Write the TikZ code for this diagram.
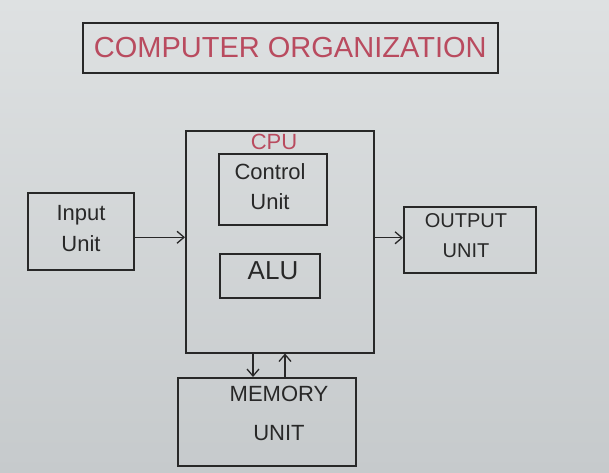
\documentclass[tikz,border=0pt]{standalone}
\usepackage{fontspec}
\setmainfont{Liberation Sans}
\usetikzlibrary{arrows.meta,calc}
\definecolor{board}{RGB}{222,225,226}
\definecolor{boardlow}{RGB}{198,202,204}
\definecolor{ink}{RGB}{40,40,40}
\definecolor{redink}{RGB}{185,75,95}
\tikzset{
  box/.style={draw=ink, line width=1.5pt, rectangle, inner sep=0pt, anchor=north west},
  lbl/.style={text=ink, inner sep=0pt, align=center},
  arr/.style={draw=ink, line width=1.4pt, -{Straight Barb[length=7pt,width=12pt,line width=1.3pt]}}
}
\begin{document}
\begin{tikzpicture}[x=1pt,y=-1pt]
\shade[top color=board, bottom color=boardlow] (0,0) rectangle (609,472);
\useasboundingbox (0,0) rectangle (609,472);
% title
\node[box, minimum width=415pt, minimum height=50pt] (title) at (82,22) {};
\node[lbl, text=redink, font=\fontsize{29}{29}\selectfont] (ttext) at (title.center) {COMPUTER ORGANIZATION};
% CPU
\node[box, minimum width=188pt, minimum height=222pt] (cpu) at (185,130) {};
\node[lbl, text=redink, font=\fontsize{22}{22}\selectfont] (cpul) at (274,142) {CPU};
\node[box, minimum width=108pt, minimum height=71pt] (cu) at (218,153) {};
\node[lbl, font=\fontsize{22}{30}\selectfont] (cul) at (270,187) {Control\\Unit};
\node[box, minimum width=100pt, minimum height=44pt] (alu) at (219,253) {};
\node[lbl, font=\fontsize{26}{26}\selectfont] (alul) at (273,271) {ALU};
% input
\node[box, minimum width=106pt, minimum height=77pt] (input) at (27,192) {};
\node[lbl, font=\fontsize{22}{31}\selectfont] (inl) at (81,229) {Input\\Unit};
% output
\node[box, minimum width=132pt, minimum height=66pt] (output) at (403,206) {};
\node[lbl, font=\fontsize{20}{30}\selectfont] (outl) at (466,236) {OUTPUT\\UNIT};
% memory
\node[box, minimum width=178pt, minimum height=88pt] (mem) at (177,377) {};
\node[lbl, font=\fontsize{22}{39}\selectfont] (meml) at (279,413) {MEMORY\\UNIT};
% connectors
\coordinate (ia) at ($(input.east)+(0,6)$);
\draw[arr] (ia) -- (ia -| cpu.west);
\coordinate (oa) at ($(output.west)+(0,-2)$);
\draw[arr] (oa -| cpu.east) -- (oa);
\coordinate (md) at (253,0);
\coordinate (mu) at (285,0);
\draw[arr] (cpu.south -| md) -- (mem.north -| md);
\draw[arr] (mem.north -| mu) -- (cpu.south -| mu);
\end{tikzpicture}
\end{document}
